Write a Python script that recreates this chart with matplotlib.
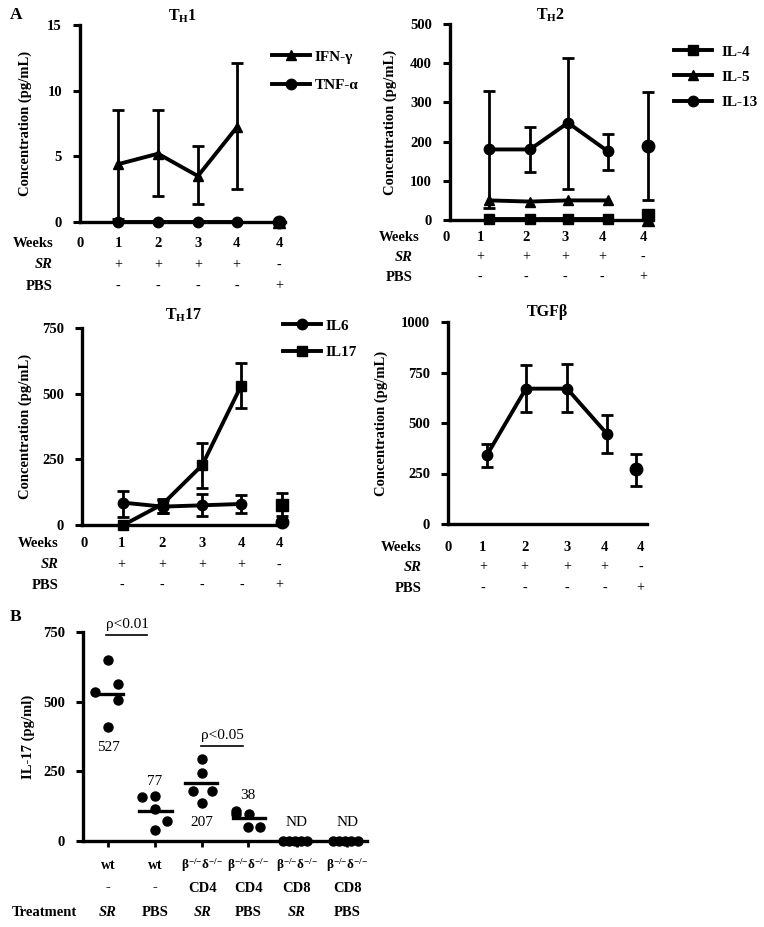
import matplotlib
matplotlib.use("Agg")
import matplotlib.pyplot as plt
from matplotlib.lines import Line2D
from matplotlib.transforms import blended_transform_factory

plt.rcParams['font.family'] = ['Liberation Serif', 'DejaVu Serif']
plt.rcParams['font.weight'] = 'bold'
plt.rcParams['mathtext.fontset'] = 'custom'
plt.rcParams['mathtext.rm'] = 'Liberation Serif:bold'
plt.rcParams['mathtext.it'] = 'Liberation Serif:bold:italic'
plt.rcParams['mathtext.bf'] = 'Liberation Serif:bold'

W, H = 764, 927

# ---------------- data ----------------
weeks = ['0', '1', '2', '3', '4', '4']
sr_row = ['', '+', '+', '+', '+', '-']
pbs_row = ['', '-', '-', '-', '-', '+']

# TH1 (weeks 1-4 with SR, then PBS at week 4)
ifn = [4.4, 5.2, 3.5, 7.2, 0.0]
ifn_hi = [8.5, 8.5, 5.8, 12.1, 0.0]
ifn_lo = [0.2, 2.0, 1.4, 2.5, 0.0]
tnf = [0.0, 0.0, 0.0, 0.0, 0.0]

# TH2
il4 = [2, 2, 2, 2, 12]
il5 = [50, 47, 50, 50, 0]
il13 = [180, 180, 248, 175, 190]
il13_hi = [330, 237, 413, 220, 327]
il13_lo = [30, 122, 80, 128, 50]

# TH17
il6 = [85, 70, 75, 80, 12]
il6_hi = [130, 95, 118, 115, 20]
il6_lo = [30, 45, 35, 45, 5]
il17 = [0, 80, 228, 528, 78]
il17_hi = [0, 100, 312, 615, 122]
il17_lo = [0, 45, 140, 445, 35]

# TGF-beta
tgfb = [340, 670, 670, 448, 270]
tgfb_hi = [395, 785, 790, 538, 345]
tgfb_lo = [283, 555, 553, 352, 190]

# panel B: IL-17 per mouse
ko = 'β$^{{-}/{-}}$δ$^{{-}/{-}}$'
b_groups = ['wt', 'wt', ko, ko, ko, ko]
b_cells = ['-', '-', 'CD4', 'CD4', 'CD8', 'CD8']
b_treat = ['SR', 'PBS', 'SR', 'PBS', 'SR', 'PBS']
b_points = [[648, 564, 533, 506, 408],
            [158, 161, 116, 72, 38],
            [296, 245, 179, 179, 138],
            [108, 97, 97, 50, 50],
            [0, 0, 0, 0, 0],
            [0, 0, 0, 0, 0]]
b_median = [528, 108, 208, 83, 0, 0]
b_notes = ['527', '77', '207', '38', 'ND', 'ND']
b_note_y = [337, 215, 68, 165, 68, 68]

# ---------------- layout helpers ----------------
fig = plt.figure(figsize=(W / 100, H / 100), dpi=100)


def px_axes(l, t, r, b):
    return fig.add_axes([l / W, 1 - b / H, (r - l) / W, (b - t) / H])


def style(ax, ylabel, labx):
    for s in ['top', 'right']:
        ax.spines[s].set_visible(False)
    for s in ['left', 'bottom']:
        ax.spines[s].set_linewidth(2.4)
    ax.tick_params(axis='y', direction='out', length=5, width=2.2,
                   labelsize=10.5, pad=8)
    ax.tick_params(axis='x', length=0, labelbottom=False)
    ax.set_ylabel(ylabel, fontsize=10.5, fontweight='bold')
    ax.yaxis.set_label_coords(labx, 0.5)


def rows(ax, xpos, rowy, labx, lab_dx=0.0):
    tr = blended_transform_factory(ax.transData, ax.transAxes)
    for x, w, s, p in zip(xpos, weeks, sr_row, pbs_row):
        ax.text(x, rowy[0], w, transform=tr, ha='center', va='center',
                fontsize=10.5)
        ax.text(x, rowy[1], s, transform=tr, ha='center', va='center',
                fontsize=10, fontweight='normal')
        ax.text(x, rowy[2], p, transform=tr, ha='center', va='center',
                fontsize=10, fontweight='normal')
    ax.text(labx, rowy[0], 'Weeks', transform=tr, ha='right', va='center',
            fontsize=10.5)
    ax.text(labx - lab_dx, rowy[1], 'SR', transform=tr, ha='right',
            va='center', fontsize=10.5, fontstyle='italic')
    ax.text(labx - lab_dx, rowy[2], 'PBS', transform=tr, ha='right',
            va='center', fontsize=10.5)


def series(ax, x, y, marker, lo=None, hi=None, ms=7.5):
    if lo is not None:
        err = [[v - l for v, l in zip(y, lo)], [h - v for v, h in zip(y, hi)]]
        ax.errorbar(x, y, yerr=err, fmt='none', ecolor='k', elinewidth=2,
                    capsize=4.5, capthick=2, clip_on=False, zorder=4)
    ax.plot(x[:4], y[:4], color='k', lw=2.8, marker=marker, ms=ms,
            clip_on=False, zorder=5)
    ax.plot(x[4:], y[4:], color='k', lw=0, marker=marker, ms=ms + 1.5,
            clip_on=False, zorder=5)


def legend(ax, items, x, y, spacing, pad):
    handles = [Line2D([], [], color='k', lw=2.8, marker=m, ms=7.5)
               for m, _ in items]
    fig.legend(handles, [t for _, t in items], loc='upper left',
               bbox_to_anchor=(x / W, 1 - y / H), frameon=False,
               borderpad=0, borderaxespad=0, handlelength=2.5,
               handletextpad=pad, labelspacing=spacing,
               prop={'size': 11, 'weight': 'bold'})


# ---------------- TH1 ----------------
ax1 = px_axes(80, 25, 285, 222)
mx1 = [0.96, 1.97, 2.98, 3.96, 5.03]
series(ax1, mx1, ifn, '^', ifn_lo, ifn_hi)
series(ax1, mx1, tnf, 'o')
ax1.set_xlim(0, 5.18)
ax1.set_ylim(0, 15)
ax1.set_yticks([0, 5, 10, 15])
style(ax1, 'Concentration (pg/mL)', -0.234)
ax1.set_title('T$_{\\mathrm{H}}$1', fontsize=11.5, fontweight='bold', pad=2)
rows(ax1, [0, 0.96, 1.97, 2.98, 3.96, 5.03], [-0.107, -0.218, -0.325], -0.68)
legend(ax1, [('^', 'IFN-γ'), ('o', 'TNF-α')], 272, 50, 0.95, 0.3)

# ---------------- TH2 ----------------
ax2 = px_axes(450, 24, 652, 220)
mx2 = [0.98, 2.0, 2.95, 3.95, 4.95]
series(ax2, mx2, il13, 'o', il13_lo, il13_hi)
series(ax2, mx2, il5, '^')
series(ax2, mx2, il4, 's', ms=7)
ax2.set_xlim(0, 5.05)
ax2.set_ylim(0, 500)
ax2.set_yticks([0, 100, 200, 300, 400, 500])
style(ax2, 'Concentration (pg/mL)', -0.26)
ax2.set_title('T$_{\\mathrm{H}}$2', fontsize=11.5, fontweight='bold', pad=1)
rows(ax2, [-0.1, 0.75, 1.9, 2.88, 3.8, 4.83], [-0.087, -0.189, -0.291],
     -0.75, 0.18)
legend(ax2, [('s', 'IL-4'), ('^', 'IL-5'), ('o', 'IL-13')], 674, 45,
       0.75, 0.6)

# ---------------- TH17 ----------------
ax3 = px_axes(82, 328, 285, 525)
mx3 = [1.05, 2.05, 3.05, 4.03, 5.07]
series(ax3, mx3, il6, 'o', il6_lo, il6_hi)
series(ax3, mx3, il17, 's', il17_lo, il17_hi, ms=7)
ax3.set_xlim(0, 5.15)
ax3.set_ylim(0, 750)
ax3.set_yticks([0, 250, 500, 750])
style(ax3, 'Concentration (pg/mL)', -0.246)
ax3.set_title('T$_{\\mathrm{H}}$17', fontsize=11.5, fontweight='bold', pad=6)
rows(ax3, [0.05, 1.0, 2.03, 3.05, 4.05, 5.0], [-0.096, -0.203, -0.305], -0.6)
legend(ax3, [('o', 'IL6'), ('s', 'IL17')], 283, 319, 0.85, 0.3)

# ---------------- TGF-beta ----------------
ax4 = px_axes(448, 322, 647, 524)
mx4 = [0.97, 1.95, 2.98, 3.97, 4.7]
series(ax4, mx4, tgfb, 'o', tgfb_lo, tgfb_hi)
ax4.set_xlim(0, 4.98)
ax4.set_ylim(0, 1000)
ax4.set_yticks([0, 250, 500, 750, 1000])
style(ax4, 'Concentration (pg/mL)', -0.30)
ax4.set_title('TGFβ', fontsize=11.5, fontweight='bold', pad=4)
rows(ax4, [0, 0.87, 1.92, 2.98, 3.92, 4.82], [-0.114, -0.213, -0.317], -0.65)

# ---------------- panel B ----------------
ax5 = px_axes(83, 632, 367, 841)
centers = [0.53, 1.52, 2.52, 3.49, 4.52, 5.58]
offsets = [[0, 0.2, -0.27, 0.2, 0],
           [-0.28, 0, 0, 0.25, 0],
           [0, 0, -0.2, 0.2, 0],
           [-0.25, -0.25, 0.02, 0, 0.25],
           [-0.3, -0.17, -0.04, 0.09, 0.22],
           [-0.3, -0.17, -0.04, 0.09, 0.22]]
med_span = [(-0.27, 0.32), (-0.33, 0.35), (-0.36, 0.32), (-0.32, 0.36),
            (-0.3, 0.3), (-0.3, 0.3)]
for c, pts, offs, med, sp, note, ny in zip(centers, b_points, offsets,
                                           b_median, med_span, b_notes,
                                           b_note_y):
    ax5.plot([c + o for o in offs], pts, 'o', color='k', ms=6.5,
             clip_on=False, zorder=5)
    ax5.plot([c + sp[0], c + sp[1]], [med, med], color='k', lw=2.4,
             clip_on=False, zorder=5)
    ax5.text(c, ny, note, ha='center', va='center', fontsize=11,
             fontweight='normal')

ax5.plot([0.48, 1.35], [739, 739], color='k', lw=1.2, clip_on=False)
ax5.text(0.93, 778, 'ρ<0.01', ha='center', va='center', fontsize=11,
         fontweight='normal')
ax5.plot([2.5, 3.37], [341, 341], color='k', lw=1.2, clip_on=False)
ax5.text(2.95, 377, 'ρ<0.05', ha='center', va='center', fontsize=11,
         fontweight='normal')

ax5.set_xlim(0, 6.0)
ax5.set_ylim(0, 750)
ax5.set_yticks([0, 250, 500, 750])
style(ax5, 'IL-17 (pg/ml)', -0.169)
ax5.set_xticks(centers)
ax5.tick_params(axis='x', direction='out', length=4, width=2,
                labelbottom=False)
trb = blended_transform_factory(ax5.transData, ax5.transAxes)
for c, g, cell, t in zip(centers, b_groups, b_cells, b_treat):
    ax5.text(c, -0.115, g, transform=trb, ha='center', va='center',
             fontsize=10 if g == 'wt' else 9.5)
    ax5.text(c, -0.225, cell, transform=trb, ha='center', va='center',
             fontsize=10.5)
    ax5.text(c, -0.34, t, transform=trb, ha='center', va='center',
             fontsize=10.5, fontstyle='italic' if t == 'SR' else 'normal')
ax5.text(-0.13, -0.34, 'Treatment', transform=trb, ha='right', va='center',
         fontsize=10.5)

# panel letters
fig.text(10 / W, 1 - 15 / H, 'A', fontsize=12.5, fontweight='bold',
         va='center')
fig.text(10 / W, 1 - 617 / H, 'B', fontsize=12.5, fontweight='bold',
         va='center')

fig.savefig('out.png', dpi=100)
